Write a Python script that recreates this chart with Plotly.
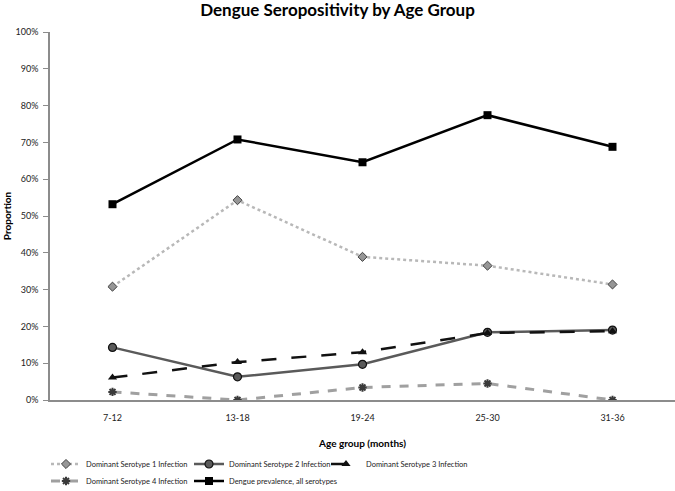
import plotly.graph_objects as go

age_groups = ["7-12", "13-18", "19-24", "25-30", "31-36"]
sero1 = [0.308, 0.543, 0.389, 0.365, 0.314]
sero2 = [0.143, 0.063, 0.097, 0.184, 0.190]
sero3 = [0.061, 0.103, 0.130, 0.182, 0.187]
sero4 = [0.022, 0.0, 0.034, 0.045, 0.0]
prevalence = [0.532, 0.708, 0.646, 0.774, 0.688]

FONT = "Lato"
W, H = 675, 491

fig = go.Figure()
fig.add_trace(go.Scatter(
    x=age_groups, y=sero1, name="Dominant Serotype 1 Infection", mode="lines+markers",
    line=dict(color="#b8b8b8", width=2.5, dash="dot"),
    marker=dict(symbol="diamond", size=7, color="#969696", line=dict(color="#404040", width=1)),
    legend="legend"))
fig.add_trace(go.Scatter(
    x=age_groups, y=sero2, name="Dominant Serotype 2 Infection", mode="lines+markers",
    line=dict(color="#5a5a5a", width=2.5),
    marker=dict(symbol="circle", size=8, color="#5a5a5a", line=dict(color="#111", width=1.2)),
    legend="legend2"))
fig.add_trace(go.Scatter(
    x=age_groups, y=sero3, name="Dominant Serotype 3 Infection", mode="lines+markers",
    line=dict(color="#111111", width=2.5, dash="longdash"),
    marker=dict(symbol="triangle-up", size=8, color="#111111"),
    legend="legend3"))
fig.add_trace(go.Scatter(
    x=age_groups, y=sero4, name="Dominant Serotype 4 Infection", mode="lines+markers",
    line=dict(color="#a0a0a0", width=3, dash="dash"),
    marker=dict(symbol="asterisk-open", size=7, color="#3a3a3a", line=dict(color="#3a3a3a", width=2)),
    legend="legend4"))
fig.add_trace(go.Scatter(
    x=age_groups, y=prevalence, name="Dengue prevalence, all serotypes", mode="lines+markers",
    line=dict(color="#000000", width=2.5),
    marker=dict(symbol="square", size=8, color="#000000"),
    legend="legend5"))


def leg(xpx, ypx):
    return dict(orientation="h", xref="container", x=xpx / W, xanchor="left",
                yref="container", y=1 - ypx / H, yanchor="middle",
                font=dict(family=FONT, size=7.5, color="#222"),
                itemwidth=30, borderwidth=0, bgcolor="rgba(0,0,0,0)")


fig.update_layout(
    width=W, height=H,
    margin=dict(l=50, r=0, t=32, b=91),
    paper_bgcolor="white", plot_bgcolor="white",
    font=dict(family=FONT, size=9, color="#222"),
    title=dict(text="<b>Dengue Seropositivity by Age Group</b>", x=0.5, xanchor="center",
               y=1 - 10 / H, yanchor="middle", font=dict(family=FONT, size=17, color="#000")),
    showlegend=True,
    legend=leg(46, 464),
    legend2=leg(189, 464),
    legend3=leg(326, 464),
    legend4=leg(46, 481),
    legend5=leg(189, 481),
)
fig.update_xaxes(
    type="category", range=[-0.5, 4.5], showline=True, linecolor="#8c8c8c", linewidth=1.5,
    showgrid=False, zeroline=False, ticks="outside", ticklen=8, tickcolor="rgba(0,0,0,0)",
    automargin=False,
    tickfont=dict(family=FONT, size=9, color="#222"),
    title=dict(text="<b>Age group (months)</b>", standoff=23, font=dict(family=FONT, size=10, color="#000")))
fig.update_yaxes(
    range=[0, 1], dtick=0.1, tickformat=".0%", showline=True, linecolor="#8c8c8c", linewidth=1.5,
    showgrid=False, zeroline=False, ticks="outside", ticklen=5, tickcolor="#8c8c8c",
    ticklabelstandoff=3, automargin=False,
    tickfont=dict(family=FONT, size=9, color="#222"),
    title=dict(text="<b>Proportion</b>", standoff=2, font=dict(family=FONT, size=10, color="#000")))

fig.write_html("out.html", config={"displayModeBar": False},
               post_script="document.body.style.margin='0';document.body.style.overflow='hidden';")
